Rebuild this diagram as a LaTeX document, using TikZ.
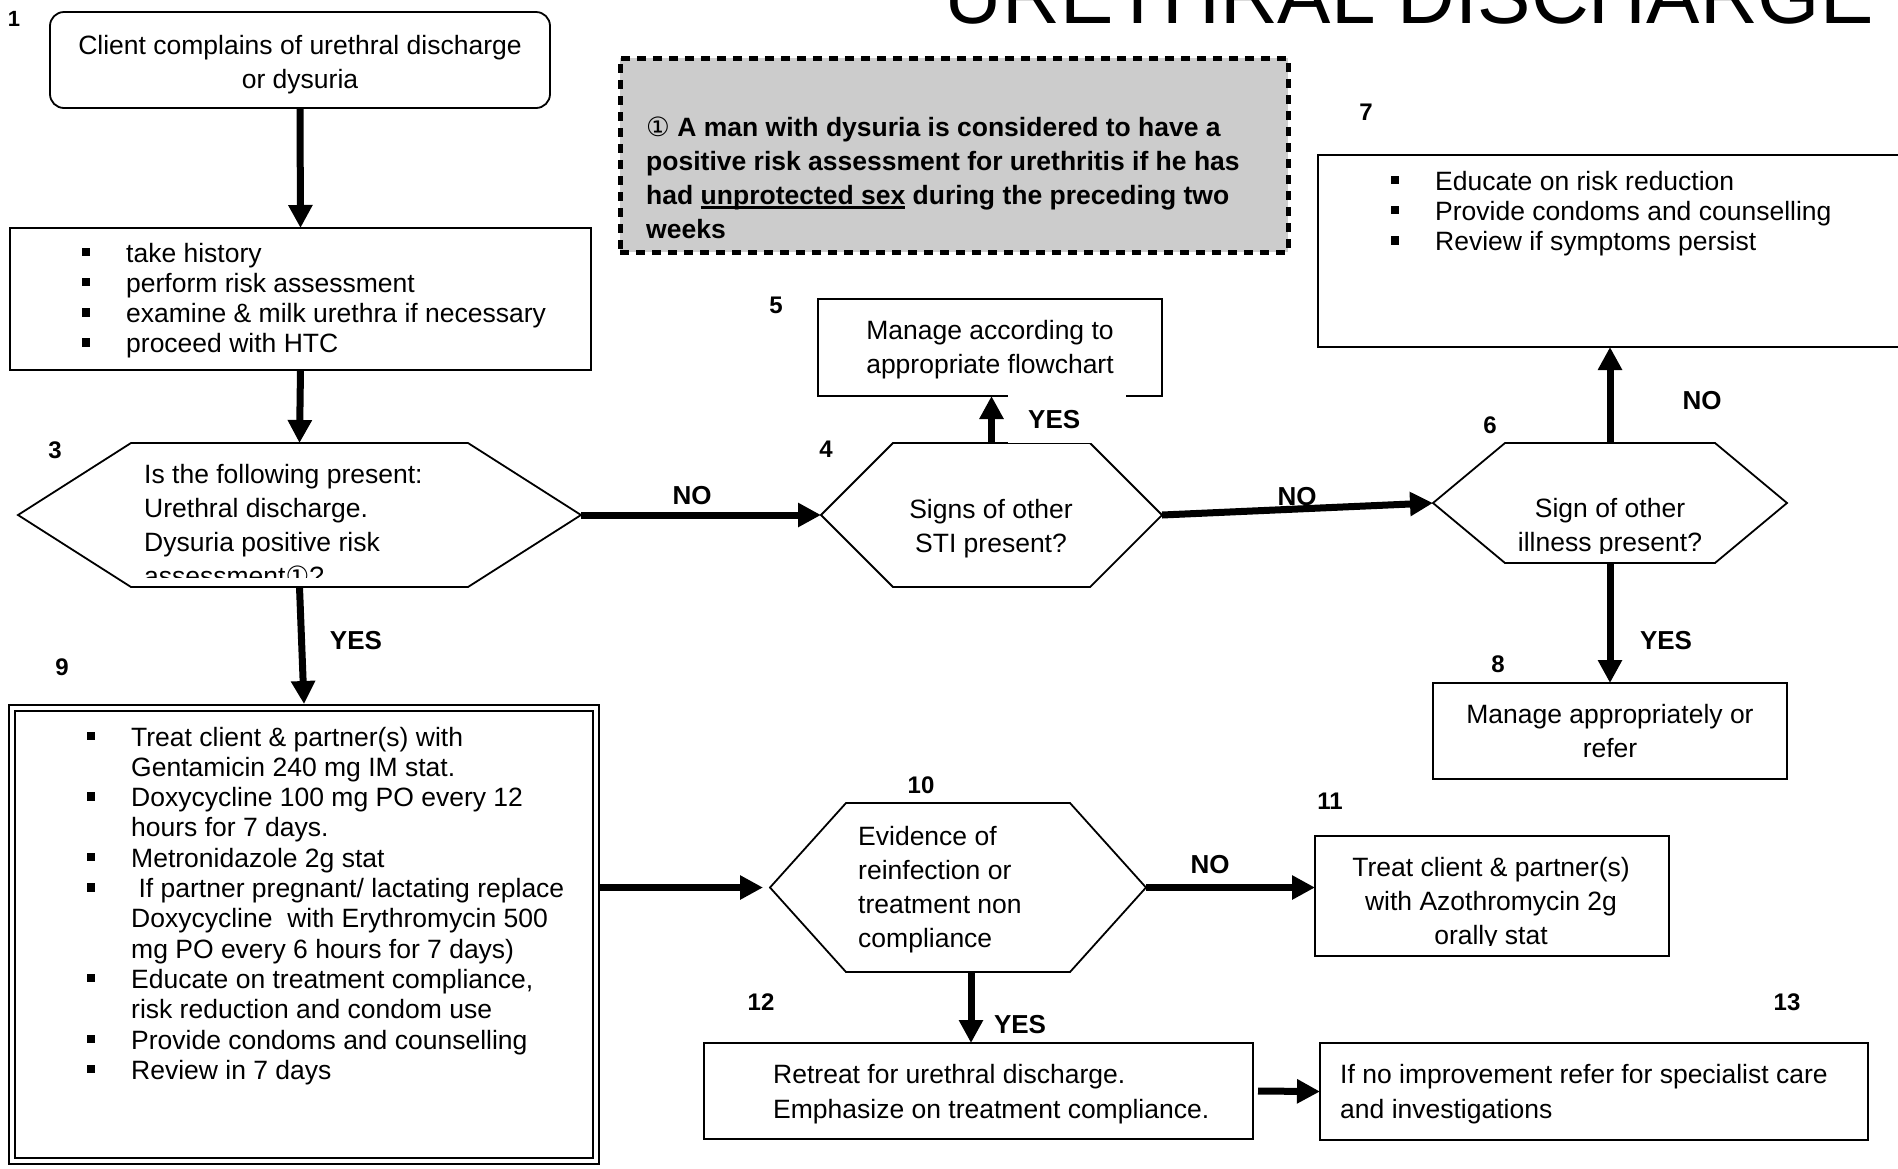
\documentclass[tikz,border=0pt]{standalone}
\usepackage{fontspec}
\setmainfont{Liberation Sans}
\newfontfamily\symfont{DejaVu Sans}
\usetikzlibrary{arrows.meta,calc}
\newcommand\txtfont{\fontsize{26.5}{34}\selectfont}
\newcommand\listfont{\fontsize{26.5}{30.3}\selectfont}
\newcommand\lblfont{\bfseries\fontsize{26}{30}\selectfont}
\newcommand\numfont{\bfseries\fontsize{24}{28}\selectfont}
\newcommand\sq{\makebox[42pt][l]{\kern-2pt\rule[6pt]{7.5pt}{8.5pt}}}
\newcommand\ind{\hspace*{42pt}}
\newcommand\myul[1]{\setbox0=\hbox{#1}\rlap{\rule[-4.5pt]{\wd0}{2.5pt}}\box0}
\newcommand\circone{{\symfont\mdseries ①}}
\newcommand\drawhex[2]{\draw[hexline] (#1.west) -- ([xshift=#2]#1.north west) -- ([xshift=-#2]#1.north east) -- (#1.east) -- ([xshift=-#2]#1.south east) -- ([xshift=#2]#1.south west) -- cycle;}
\tikzset{
  box/.style={draw, line width=1.8pt, inner sep=0pt, outer sep=0pt, font=\txtfont, align=center},
  hexnode/.style={inner sep=0pt, outer sep=0pt},
  hexline/.style={line width=1.8pt, line join=miter},
  arr/.style={line width=7pt, -{Triangle[width=23pt,length=23pt]}},
  yesno/.style={font=\lblfont, inner sep=0pt},
  num/.style={font=\numfont, inner sep=0pt},
  txt/.style={font=\txtfont, inner sep=0pt},
  lst/.style={font=\listfont, inner sep=0pt, anchor=base west},
}
\begin{document}
\begin{tikzpicture}[x=1pt,y=-1pt]
\useasboundingbox (0,0) rectangle (1898,1168);

% title
\node[anchor=base, inner sep=0pt, font=\fontsize{80}{80}\selectfont] (title) at (1409,23) {URETHRAL DISCHARGE};

% boxes
\node[box, rounded corners=14pt, minimum width=500pt, minimum height=96pt] (b1) at (300,60) {};
\node[txt, align=center] (t1) at ($(b1.center)+(0,5)$) {Client complains of urethral discharge\\or dysuria};
\node[box, minimum width=581pt, minimum height=142pt] (b2) at (300.5,299) {};
\node[box, minimum width=344pt, minimum height=97pt] (b5) at (990,347.5) {};
\node[txt, align=center] (t5) at ($(b5.center)+(0,2)$) {Manage according to\\appropriate flowchart};
\node[box, minimum width=602pt, minimum height=192pt] (b7) at (1619,251) {};
\node[box, minimum width=354pt, minimum height=96pt] (b8) at (1610,731) {Manage appropriately or\\refer};
\node[box, double, line width=2pt, double distance=4pt, outer sep=4pt, minimum width=584pt, minimum height=453pt] (b9) at (304,934.5) {};
\node[box, minimum width=354pt, minimum height=120pt] (b11) at (1492,896) {};
\node[box, minimum width=549pt, minimum height=96pt] (b12) at (978.5,1091) {};
\node[box, minimum width=548pt, minimum height=97pt] (b13) at (1594,1091.5) {};

% note box
\node[draw, fill=gray!40, line width=5pt, dash pattern=on 9pt off 7pt, inner sep=0pt, minimum width=668pt, minimum height=194pt] (nb) at (954,155) {};
\node[font=\bfseries\txtfont, inner sep=0pt, anchor=base west] (tn) at (646,136) {\begin{tabular}[t]{@{}l@{}}\circone\ A man with dysuria is considered to have a\\positive risk assessment for urethritis if he has\\had \myul{unprotected sex}\ during the preceding two\\weeks\end{tabular}};

% hexagons
\node[hexnode, minimum width=563pt, minimum height=144pt] (h3) at (299.5,515) {};
\node[hexnode, minimum width=341pt, minimum height=144pt] (h4) at (991.5,515) {};
\node[hexnode, minimum width=354pt, minimum height=120pt] (h6) at (1610,503) {};
\node[hexnode, minimum width=376pt, minimum height=169pt] (h10) at (958,887.5) {};
\drawhex{h3}{113pt}
\drawhex{h4}{72pt}
\drawhex{h6}{72pt}
\drawhex{h10}{76pt}

% texts
\node[lst] (t2) at (84,262) {\begin{tabular}[t]{@{}l@{}}\sq take history\\\sq perform risk assessment\\\sq examine \& milk urethra if necessary\\\sq proceed with HTC\end{tabular}};
\node[lst] (t7) at (1393,190) {\begin{tabular}[t]{@{}l@{}}\sq Educate on risk reduction\\\sq Provide condoms and counselling\\\sq Review if symptoms persist\end{tabular}};
\node[lst] (t9) at (89,746) {\begin{tabular}[t]{@{}l@{}}\sq Treat client \& partner(s) with\\\ind Gentamicin 240 mg IM stat.\\\sq Doxycycline 100 mg PO every 12\\\ind hours for 7 days.\\\sq Metronidazole 2g stat\\\sq\ If partner pregnant/ lactating replace\\\ind Doxycycline\ \ with Erythromycin 500\\\ind mg PO every 6 hours for 7 days)\\\sq Educate on treatment compliance,\\\ind risk reduction and condom use\\\sq Provide condoms and counselling\\\sq Review in 7 days\end{tabular}};
\begin{scope}
\clip (0,0) rectangle (1898,577);
\node[txt, anchor=base west] (t3) at (144,483) {\begin{tabular}[t]{@{}l@{}}Is the following present:\\Urethral discharge.\\Dysuria positive risk\\assessment\circone?\end{tabular}};
\end{scope}
\node[txt, anchor=base] (t4) at (991,518) {\begin{tabular}[t]{@{}c@{}}Signs of other\\STI present?\end{tabular}};
\begin{scope}
\clip (0,0) rectangle (1898,553);
\node[txt, anchor=base] (t6) at (1610,517) {\begin{tabular}[t]{@{}c@{}}Sign of other\\illness present?\end{tabular}};
\end{scope}
\node[txt, anchor=base west] (t10) at (858,845) {\begin{tabular}[t]{@{}l@{}}Evidence of\\reinfection or\\treatment non\\compliance\end{tabular}};
\begin{scope}
\clip (0,0) rectangle (1898,945);
\node[txt, anchor=base] (t11) at (1491,876) {\begin{tabular}[t]{@{}c@{}}Treat client \& partner(s)\\with Azothromycin 2g\\orally stat\end{tabular}};
\end{scope}
\node[font=\fontsize{26.5}{35}\selectfont, inner sep=0pt, anchor=base west] (t12) at (773,1083) {\begin{tabular}[t]{@{}l@{}}Retreat for urethral discharge.\\Emphasize on treatment compliance.\end{tabular}};
\node[font=\fontsize{26.5}{35}\selectfont, inner sep=0pt, anchor=base west] (t13) at (1340,1083) {\begin{tabular}[t]{@{}l@{}}If no improvement refer for specialist care\\and investigations\end{tabular}};

% connectors
\draw[arr] (b1.south) -- (b2.north);
\draw[arr] (b2.south) -- (h3.north);
\draw[arr] (h3.east) -- (h4.west);
\draw[arr] (h4.north) -- (h4.north |- b5.south);
\draw[arr] (h4.east) -- (h6.west);
\draw[arr] (h6.north) -- (h6.north |- b7.south);
\draw[arr] (h6.south) -- (b8.north);
\draw[arr] (h3.south) -- (b9.north);
\draw[arr, shorten >=7pt] (b9.east |- h10.west) -- (h10.west);
\draw[arr] (h10.east) -- (h10.east -| b11.west);
\draw[arr] ($(h10.south)+(13,0)$) -- ($(h10.south |- b12.north)+(13,0)$);
\draw[arr, shorten <=5pt] (b12.east) -- (b13.west);

% labels
\node[yesno, fill=white, minimum width=118pt, minimum height=48pt, anchor=north west] (l45) at (1008,395) {\makebox[118pt][l]{\hspace{20pt}\raisebox{-4.5pt}{YES}}};
\node[yesno] (l34) at (692,496) {NO};
\node[yesno] (l46) at (1297,497) {NO};
\node[yesno] (l67) at (1702,401) {NO};
\node[yesno] (l68) at (1666,641) {YES};
\node[yesno] (l39) at (356,641) {YES};
\node[yesno] (l1011) at (1210,865) {NO};
\node[yesno] (l1012) at (1020,1025) {YES};

\node[num, font=\bfseries\fontsize{22}{26}\selectfont] (n1) at (14,18.5) {1};
\node[num] (n3) at (55,450) {3};
\node[num] (n4) at (826,449.5) {4};
\node[num] (n5) at (776,305) {5};
\node[num] (n6) at (1490,425) {6};
\node[num] (n7) at (1366,112.5) {7};
\node[num] (n8) at (1498,664) {8};
\node[num] (n9) at (62,667) {9};
\node[num] (n10) at (921,785) {10};
\node[num] (n11) at (1330,801) {11};
\node[num] (n12) at (761,1002) {12};
\node[num] (n13) at (1787,1002) {13};
\end{tikzpicture}
\end{document}
